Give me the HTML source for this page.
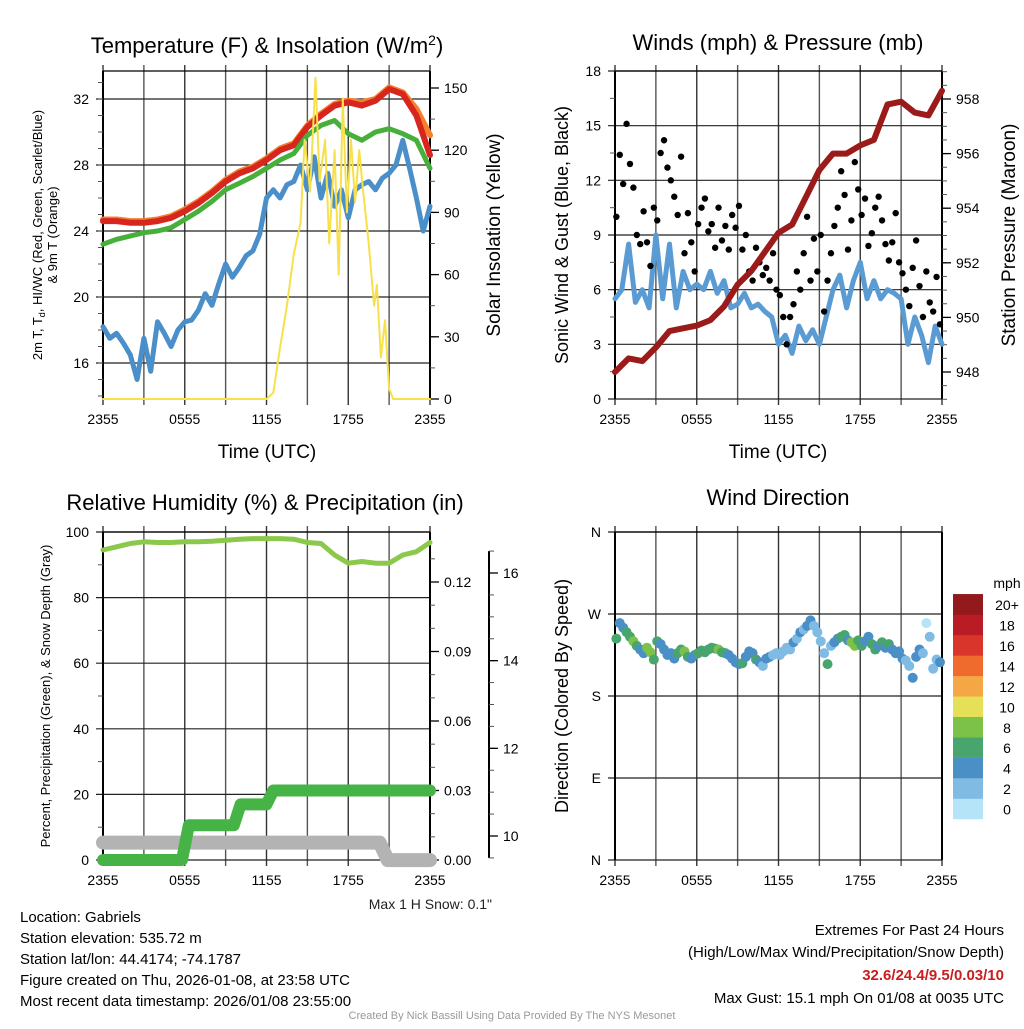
<!DOCTYPE html>
<html><head><meta charset="utf-8"><style>
body{margin:0;background:#fff;width:1024px;height:1024px;overflow:hidden}
svg{font-family:"Liberation Sans",sans-serif}
</style></head><body>
<svg id="c" width="1024" height="1024" viewBox="0 0 1024 1024" xmlns="http://www.w3.org/2000/svg">
<text x="267" y="53" font-size="22" text-anchor="middle">Temperature (F) &amp; Insolation (W/m<tspan dy="-8" font-size="14">2</tspan><tspan dy="8">)</tspan></text>
<text x="778" y="50" font-size="22" text-anchor="middle">Winds (mph) &amp; Pressure (mb)</text>
<text x="265" y="510" font-size="22" text-anchor="middle">Relative Humidity (%) &amp; Precipitation (in)</text>
<text x="778" y="505" font-size="22" text-anchor="middle">Wind Direction</text>
<text transform="translate(42,235) rotate(-90)" font-size="13" text-anchor="middle">2m T, T<tspan font-size="9" dy="3">d</tspan><tspan dy="-3">, HI/WC (Red, Green, Scarlet/Blue)</tspan></text>
<text transform="translate(57,235) rotate(-90)" font-size="13" text-anchor="middle">&amp; 9m T (Orange)</text>
<text transform="translate(500,235) rotate(-90)" font-size="19" text-anchor="middle">Solar Insolation (Yellow)</text>
<text transform="translate(568,235) rotate(-90)" font-size="18" text-anchor="middle">Sonic Wind &amp; Gust (Blue, Black)</text>
<text transform="translate(1015,235) rotate(-90)" font-size="19" text-anchor="middle">Station Pressure (Maroon)</text>
<text transform="translate(50,696) rotate(-90)" font-size="13" text-anchor="middle">Percent, Precipitation (Green), &amp; Snow Depth (Gray)</text>
<text transform="translate(568,696) rotate(-90)" font-size="18" text-anchor="middle">Direction (Colored By Speed)</text>
<text x="267" y="458" font-size="19" text-anchor="middle">Time (UTC)</text>
<text x="778" y="458" font-size="19" text-anchor="middle">Time (UTC)</text>
<text x="492" y="909" font-size="14" text-anchor="end" fill="#222">Max 1 H Snow: 0.1"</text>
<g font-size="15">
<text x="20" y="922">Location: Gabriels</text>
<text x="20" y="943">Station elevation: 535.72 m</text>
<text x="20" y="964">Station lat/lon: 44.4174; -74.1787</text>
<text x="20" y="985">Figure created on Thu, 2026-01-08, at 23:58 UTC</text>
<text x="20" y="1006">Most recent data timestamp: 2026/01/08 23:55:00</text>
</g>
<g font-size="15" text-anchor="end">
<text x="1004" y="935">Extremes For Past 24 Hours</text>
<text x="1004" y="957">(High/Low/Max Wind/Precipitation/Snow Depth)</text>
<text x="1004" y="980" fill="#c81e1e" font-weight="bold">32.6/24.4/9.5/0.03/10</text>
<text x="1004" y="1003">Max Gust: 15.1 mph On 01/08 at 0035 UTC</text>
</g>
<text x="512" y="1019" font-size="11" fill="#999" text-anchor="middle">Created By Nick Bassill Using Data Provided By The NYS Mesonet</text>
</svg>
<script>
// ---- data ----
const xTickLabels=["2355","","0555","","1155","","1755","","2355"];
const hourly=[0,1,2,3,4,5,6,7,8,9,10,11,12,13,14,15,16,17,18,19,20,21,22,23,24];
const tempRed=[24.6,24.6,24.5,24.5,24.6,24.8,25.2,25.7,26.3,27.0,27.5,27.8,28.3,28.9,29.2,30.3,31.0,31.6,31.8,31.6,31.9,32.6,32.3,31.0,28.6];
const tempOrange=[24.7,24.7,24.6,24.6,24.7,24.9,25.3,25.8,26.4,27.1,27.6,27.9,28.4,29.0,29.3,30.4,31.1,31.7,31.9,31.8,32.0,32.7,32.4,31.4,29.8];
const tempGreen=[23.2,23.5,23.7,23.9,24.0,24.2,24.7,25.2,25.8,26.5,26.9,27.3,27.8,28.3,28.7,29.8,30.4,30.7,29.9,29.5,30.0,30.2,29.9,29.5,27.8];
const halfHours=[0,0.5,1,1.5,2,2.5,3,3.5,4,4.5,5,5.5,6,6.5,7,7.5,8,8.5,9,9.5,10,10.5,11,11.5,12,12.5,13,13.5,14,14.5,15,15.5,16,16.5,17,17.5,18,18.5,19,19.5,20,20.5,21,21.5,22,22.5,23,23.5,24];
const dewBlue=[18.2,17.5,17.8,17.2,16.5,15.0,17.5,15.5,18.5,17.8,17.0,18.0,18.5,18.6,19.2,20.2,19.5,20.8,22.0,21.2,21.8,22.5,22.8,23.8,26.0,26.5,26.0,26.8,27.0,28.0,26.5,28.5,26.0,27.5,25.5,26.5,24.8,26.5,26.8,27.0,26.5,27.2,27.5,28.0,29.5,27.8,26.0,24.0,25.5];
const solarHours=[0,12.0,12.5,13,13.5,14,14.5,14.8,15.2,15.6,15.9,16.3,16.6,17,17.3,17.6,17.9,18.2,18.5,18.8,19.1,19.5,19.9,20.1,20.4,20.7,21,21.3,24];
const solarVals=[0,0,3,25,45,70,85,125,100,155,105,125,75,120,60,145,90,125,95,120,100,75,45,55,20,38,5,0,0];
const windBlue=[5.5,6.0,8.5,5.3,6.0,5.0,9.0,5.5,8.5,5.0,7.0,6.0,6.3,6.0,7.0,5.8,6.5,5.0,5.2,5.8,5.0,5.2,4.8,4.5,3.0,3.5,2.5,4.0,3.2,3.8,3.0,4.5,6.0,6.8,5.0,6.5,7.5,5.5,6.5,5.5,6.0,5.8,5.5,3.0,4.5,3.5,2.0,4.0,3.0];
const gusts=[10,13.4,11.8,15.1,12.9,11.6,9.0,8.5,10.3,8.6,7.3,10.5,9.8,13.5,14.2,12.7,12.0,11.1,10.1,13.3,8.0,10.2,8.6,7.0,9.6,10.5,11.0,9.2,9.6,8.3,10.5,8.7,9.5,8.2,10.1,9.4,10.6,8.2,9.0,7.0,6.5,8.3,7.5,6.8,7.2,6.5,8.0,6.0,5.7,4.5,3.0,4.5,5.2,7.0,6.0,8.0,10.0,6.5,8.8,7.0,9.0,4.8,6.5,8.0,9.5,10.5,12.5,11.2,8.2,9.8,13.0,11.5,10.1,11.0,8.4,9.1,10.5,11.1,9.8,8.5,7.6,8.6,10.2,7.5,6.9,6.0,5.1,7.2,8.7,6.2,4.5,7.0,5.3,4.8,6.7,4.1];
const pressure=[948.0,948.5,948.4,948.9,949.5,949.6,949.7,949.9,950.4,951.2,951.7,952.4,953.1,953.4,954.4,955.4,956.0,956.0,956.3,956.5,957.8,957.9,957.5,957.4,958.3];
const rh=[94.5,95.5,96.5,97,96.8,96.8,97,97,97.2,97.5,97.8,98,98,98,97.8,96.8,96.5,93,90.5,91,90.5,90.5,93,94,96.8];
const precipHours=[0,5.8,6.3,9.6,10.1,12.0,12.5,24];
const precipVals=[0,0,0.015,0.015,0.024,0.024,0.03,0.03];
const snowHours=[0,20.3,20.9,24];
const snowVals=[9.85,9.85,9.45,9.45];
const dirs=[243,260,255,250,245,240,235,231,227,233,228,220,240,237,231,225,227,221,227,231,229,223,221,225,227,230,228,231,233,232,231,228,227,225,221,217,215,216,223,229,227,220,217,213,221,223,225,227,225,229,233,231,239,243,250,253,257,263,257,250,240,227,215,235,239,243,245,247,241,239,235,241,235,240,245,237,231,235,239,233,237,231,227,229,221,219,213,200,223,231,227,260,245,210,220,217];
const dirSpeeds=[6,5,5,6,7,8,6,5,4,8,9,6,7,5,4,5,4,5,6,7,8,6,5,4,6,7,6,7,6,6,8,7,6,5,5,4,4,6,5,4,4,6,4,3,4,4,3,2,2,3,2,3,4,3,4,3,4,4,3,2,3,2,6,3,4,5,6,7,5,8,9,6,6,5,4,7,6,5,6,4,6,5,4,4,4,3,2,4,4,5,3,1,2,2,3,4];
const speedColors=["#b5e3f8","#80bbe4","#4a8fc6","#48a56e","#7dc248","#e6df58","#f5a746","#ee6a2d","#da352a","#b91c24","#921a1d"];
const speedLabels=["0","2","4","6","8","10","12","14","16","18","20+"];
// ---- drawing ----
const svg=document.getElementById('c');const NS="http://www.w3.org/2000/svg";
function el(t,a,p){const e=document.createElementNS(NS,t);for(const k in a)e.setAttribute(k,a[k]);(p||svg).appendChild(e);return e;}
function lin(d0,d1,r0,r1){return v=>r0+(v-d0)*(r1-r0)/(d1-d0);}
function txt(x,y,s,o,p){const e=el('text',Object.assign({x:x,y:y,'font-size':14},o||{}),p);e.textContent=s;return e;}
function panel(name,L,R,T,B,yTicks,ySc,yLabels){
 const g=el('g',{});
 
 
 const xs=lin(0,24,L,R);
 for(let i=0;i<=8;i++){const x=xs(i*3);el('line',{x1:x,x2:x,y1:T-6,y2:B+6,stroke:i%2?'#555':'#333','stroke-width':1.4},g);
  if(xTickLabels[i]){const t=txt(x,B+25,xTickLabels[i],{'text-anchor':'middle','font-size':14},g);}}
 yTicks.forEach((v,i)=>{const y=ySc(v);el('line',{x1:L-7,x2:R,y1:y,y2:y,stroke:'#222','stroke-width':1.2},g);
  const t=txt(L-14,y+5,yLabels[i],{'text-anchor':'end'},g);});
 el('line',{x1:L,x2:R,y1:T,y2:T,stroke:'#000','stroke-width':1.3},g);
 el('line',{x1:L,x2:L,y1:T,y2:B,stroke:'#000','stroke-width':2},g);
 el('line',{x1:R,x2:R,y1:T,y2:B,stroke:'#000','stroke-width':2},g);
 return {g,xs};
}
function path(xv,yv,xs,ys,st,g,name){let d='';xv.forEach((x,i)=>{d+=(i?'L':'M')+xs(x).toFixed(1)+','+ys(yv[i]).toFixed(1);});
 const p=el('path',Object.assign({d:d,fill:'none','stroke-linejoin':'round','stroke-linecap':'round'},st),g);
 
 return p;}
function rAxis(x,vals,sc,labels,minor,g,name){const a=el('g',{},g);
 
 
 el('line',{x1:x,x2:x,y1:sc(minor[0]),y2:sc(minor[minor.length-1]),stroke:'#000','stroke-width':2},a);
 minor.forEach(v=>el('line',{x1:x,x2:x+5,y1:sc(v),y2:sc(v),stroke:'#555','stroke-width':1},a));
 vals.forEach((v,i)=>{el('line',{x1:x,x2:x+9,y1:sc(v),y2:sc(v),stroke:'#000','stroke-width':1.3},a);txt(x+14,sc(v)+5,labels[i],{},a);});}
// Panel 1
{const T=71,B=399,L=103,R=430;const ys=lin(16,32,363,99);const {g,xs}=panel('temperature-panel',L,R,T,B,[16,20,24,28,32],ys,["16","20","24","28","32"]);
 const mn=[];for(let v=14;v<=33;v++)mn.push(v);mn.forEach(v=>el('line',{x1:L-5,x2:L,y1:ys(v),y2:ys(v),stroke:'#555'},g));
 const ss=lin(0,150,399,88);const sm=[];for(let v=0;v<=150;v+=15)sm.push(v);
 rAxis(R,[0,30,60,90,120,150],ss,["0","30","60","90","120","150"],sm,g,'solar-axis');
 path(hourly,tempOrange,xs,ys,{stroke:'#f4802e','stroke-width':6},g,'temp-9m-line');
 path(hourly,tempRed,xs,ys,{stroke:'#d7261e','stroke-width':6},g,'temp-2m-line');
 path(hourly,tempGreen,xs,ys,{stroke:'#46b03a','stroke-width':5},g,'hi-wc-line');
 path(halfHours,dewBlue,xs,ys,{stroke:'#4a8fc9','stroke-width':5},g,'dewpoint-line');
 path(solarHours,solarVals,xs,ss,{stroke:'#f7e04a','stroke-width':2},g,'solar-line');}
// Panel 2
{const T=71,B=399,L=615,R=942;const ys=lin(0,18,399,71);const {g,xs}=panel('winds-panel',L,R,T,B,[0,3,6,9,12,15,18],ys,["0","3","6","9","12","15","18"]);
 for(let v=1.5;v<18;v+=3)el('line',{x1:L-5,x2:L,y1:ys(v),y2:ys(v),stroke:'#555'},g);
 const ps=lin(948,958,372,99);const pm=[];for(let v=947;v<=959;v+=0.5)pm.push(v);
 rAxis(R,[948,950,952,954,956,958],ps,["948","950","952","954","956","958"],pm,g,'pressure-axis');
 path(halfHours,windBlue,xs,ys,{stroke:'#5a9bd3','stroke-width':5},g,'wind-speed-line');
 gusts.forEach((v,i)=>{const c=el('circle',{cx:xs(i*0.25+0.1),cy:ys(v),r:3.2,fill:'#000'},g);
  
  });
 path(hourly,pressure,xs,ps,{stroke:'#9b1b1b','stroke-width':6},g,'pressure-line');}
// Panel 3
{const T=532,B=860,L=103,R=430;const ys=lin(0,100,860,532);const {g,xs}=panel('humidity-panel',L,R,T,B,[0,20,40,60,80,100],ys,["0","20","40","60","80","100"]);
 for(let v=10;v<100;v+=20)el('line',{x1:L-5,x2:L,y1:ys(v),y2:ys(v),stroke:'#555'},g);
 const pr=lin(0,0.03,860,790.5);const pm=[];for(let v=0;v<=0.135;v+=0.01)pm.push(v);
 rAxis(R,[0,0.03,0.06,0.09,0.12],pr,["0.00","0.03","0.06","0.09","0.12"],pm,g,'precip-axis');
 const sn=lin(10,16,836,573);const sm=[];for(let v=9.5;v<=16.9;v+=0.5)sm.push(v);
 rAxis(489,[10,12,14,16],sn,["10","12","14","16"],sm,g,'snow-axis');
 path(snowHours,snowVals,xs,sn,{stroke:'#b3b3b3','stroke-width':14},g,'snow-depth-line');
 path(precipHours,precipVals,xs,pr,{stroke:'#46b347','stroke-width':12},g,'precip-line');
 path(hourly,rh,xs,ys,{stroke:'#8cc84b','stroke-width':5},g,'rh-line');}
// Panel 4
{const T=532,B=860,L=615,R=942;const ys=lin(0,360,860,532);const {g,xs}=panel('wind-direction-panel',L,R,T,B,[0,90,180,270,360],ys,["N","E","S","W","N"]);
 dirs.forEach((d,i)=>{const b=Math.min(10,Math.floor(dirSpeeds[i]/2));const c=el('circle',{cx:xs(i*0.25+0.1),cy:ys(d),r:5,fill:speedColors[b]},g);
  
  });
 const cb=el('g',{},g);
 
 
 txt(1007,588,'mph',{'text-anchor':'middle'},cb);
 speedColors.forEach((c,i)=>{const y=819-(i+1)*20.45;el('rect',{x:953,y:y,width:30,height:20.7,fill:c},cb);txt(1007,y+16,speedLabels[i],{'text-anchor':'middle'},cb);});}
</script>
</body></html>
